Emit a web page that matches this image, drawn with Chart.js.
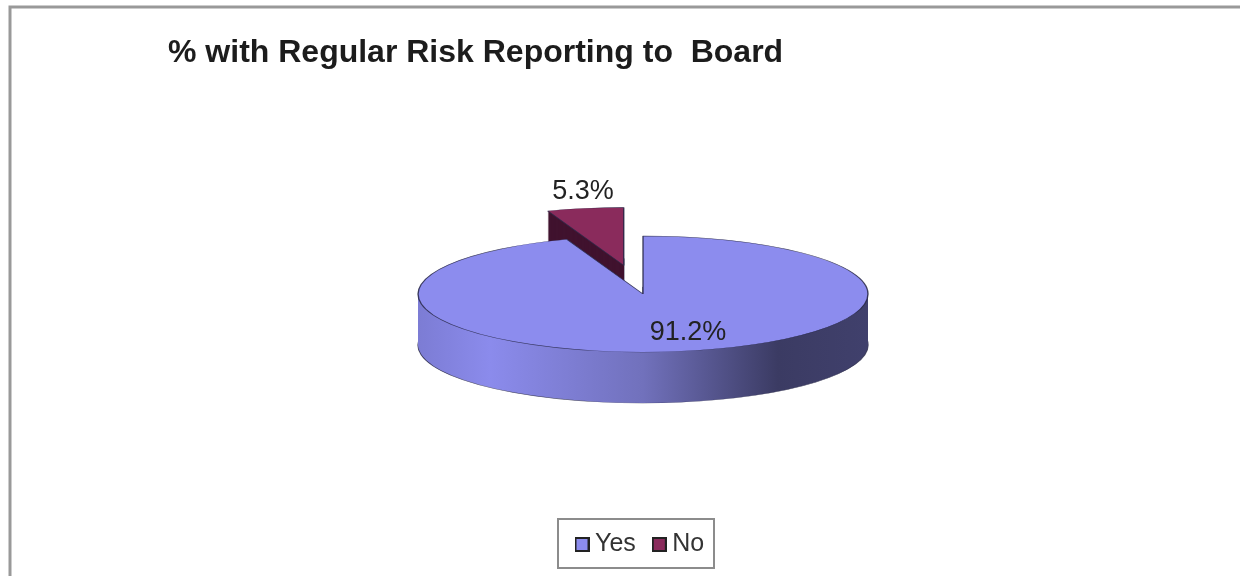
<!DOCTYPE html>
<html>
<head>
<meta charset="utf-8">
<title>% with Regular Risk Reporting to Board</title>
<script src="https://cdn.jsdelivr.net/npm/chart.js@4/dist/chart.umd.js"></script>
<style>
    html, body { margin: 0; padding: 0; background: #fff; }
    canvas { display: block; filter: blur(0.5px); }
</style>
</head>
<body>
<canvas id="riskChart" width="1240" height="576"></canvas>
<script>
// --- Data ---
const chartTitle = '% with Regular Risk Reporting to  Board';
const categories = ['Yes', 'No'];
const values = [91.2, 5.3];
const valueLabels = ['91.2%', '5.3%'];

// --- Look ---
const topColors = ['#8C8CEE', '#8A2B5C'];
const FONT = '"Liberation Sans", Arial, sans-serif';
const SQUASH = 0.258;     // tilt of the pie
const DEPTH = 51;         // height of the side wall, px
const PIE_RADIUS = 225;
const PIE_CENTER_Y = 294;
const EXPLODE = [0, 112]; // how far each slice is pulled out
const LABEL_SHIFT = [[45, 39], [-60, -102]]; // label position relative to the slice point

// legend swatches, drawn once and handed to the legend as point styles
function makeSwatch(color) {
    const c = document.createElement('canvas');
    c.width = 15;
    c.height = 15;
    const g = c.getContext('2d');
    g.fillStyle = '#222';
    g.fillRect(0, 0, 15, 15);
    g.fillStyle = color;
    g.fillRect(2, 2, 11, 11);
    return c;
}
const swatches = topColors.map(makeSwatch);

// Draws the library's arcs as a tilted pie with a side wall
const tiltedPie = {
    id: 'tiltedPie',
    afterLayout(chart) {
        // title and legend stay where the reference has them
        chart.titleBlock.left = 168;
        chart.titleBlock.top = 34;
        chart.legend.left = 558.5;
        chart.legend.top = 509;
    },
    beforeDraw(chart) {
        const ctx = chart.ctx;
        ctx.save();
        ctx.fillStyle = '#fff';
        ctx.fillRect(0, 0, chart.width, chart.height);
        // outer frame
        ctx.strokeStyle = '#999';
        ctx.lineWidth = 3;
        ctx.strokeRect(10, 7, 1260, 600);
        // legend frame
        ctx.strokeStyle = '#8c8c8c';
        ctx.lineWidth = 2;
        ctx.strokeRect(558, 519, 156, 49);
        ctx.restore();
    },
    beforeDatasetDraw(chart, args) {
        const ctx = chart.ctx;
        const arcs = args.meta.data;
        const wall = ctx.createLinearGradient(418, 0, 868, 0);
        wall.addColorStop(0, '#7C7CD4');
        wall.addColorStop(0.16, '#8B8BEC');
        wall.addColorStop(0.5, '#7171BC');
        wall.addColorStop(0.8, '#3B3B63');
        wall.addColorStop(1, '#40406C');
        const wallColors = [wall, '#40122E'];

        // draw one copy of an arc, moved out of the pie and down the wall
        const drawLayer = (arc, i, down, fill, stroke, width) => {
            const mid = (arc.startAngle + arc.endAngle) / 2;
            const layer = new Chart.ArcElement({
                x: arc.x + Math.cos(mid) * EXPLODE[i],
                y: arc.y + Math.sin(mid) * EXPLODE[i],
                startAngle: arc.startAngle,
                endAngle: arc.endAngle,
                circumference: arc.circumference,
                innerRadius: 0,
                outerRadius: arc.outerRadius,
                options: Object.assign(Object.create(arc.options), {
                    backgroundColor: fill,
                    borderColor: stroke,
                    borderWidth: width
                })
            });
            ctx.save();
            ctx.translate(0, PIE_CENTER_Y + down - arc.y * SQUASH);
            ctx.scale(1, SQUASH);
            layer.draw(ctx);
            ctx.restore();
        };

        // back slice first, so the big slice covers it
        [1, 0].forEach(i => {
            const arc = arcs[i];
            drawLayer(arc, i, DEPTH, wallColors[i], 'rgba(40,40,70,0.8)', 1.4);
            for (let d = DEPTH - 1; d > 0; d--) {
                drawLayer(arc, i, d, wallColors[i], 'transparent', 0);
            }
            drawLayer(arc, i, 0, topColors[i], 'rgba(40,40,70,0.85)', 1.4);
        });

        // value labels
        ctx.save();
        ctx.font = '27px ' + FONT;
        ctx.fillStyle = '#222';
        ctx.textAlign = 'center';
        ctx.textBaseline = 'middle';
        arcs.forEach((arc, i) => {
            const px = arc.x + LABEL_SHIFT[i][0];
            const py = PIE_CENTER_Y + LABEL_SHIFT[i][1];
            ctx.fillText(valueLabels[i], px, py);
        });
        ctx.restore();
        return false;
    }
};

new Chart(document.getElementById('riskChart'), {
    type: 'pie',
    data: {
        labels: categories,
        datasets: [{
            data: values,
            backgroundColor: topColors,
            radius: PIE_RADIUS
        }]
    },
    options: {
        responsive: false,
        animation: false,
        layout: { padding: { left: 46 } },
        radius: PIE_RADIUS,
        plugins: {
            tooltip: { enabled: false },
            title: {
                display: true,
                text: chartTitle,
                align: 'start',
                color: '#1c1c1c',
                font: { family: FONT, size: 32, weight: 'bold', lineHeight: 1.2 },
                padding: 0
            },
            legend: {
                display: true,
                position: 'bottom',
                align: 'start',
                labels: {
                    usePointStyle: true,
                    pointStyleWidth: 1,
                    padding: 23,
                    color: '#333',
                    font: { family: FONT, size: 25 },
                    generateLabels: () => categories.map((name, i) => ({
                        text: name,
                        pointStyle: swatches[i],
                        fontColor: '#333',
                        hidden: false,
                        index: i
                    }))
                }
            }
        }
    },
    plugins: [tiltedPie]
});
</script>
</body>
</html>
